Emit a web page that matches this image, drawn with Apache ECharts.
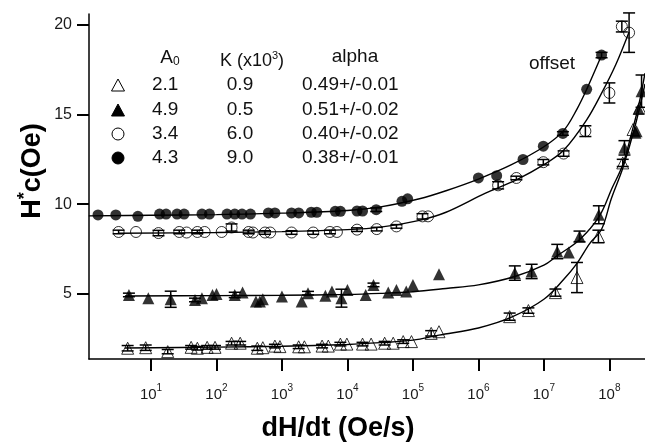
<!DOCTYPE html>
<html>
<head>
<meta charset="utf-8">
<script src="https://cdn.jsdelivr.net/npm/echarts@6/dist/echarts.min.js"></script>
<style>
    html, body { margin: 0; padding: 0; background: #fff; }
    #chart { width: 645px; height: 443px; }
</style>
</head>
<body>
<div id="chart"></div>
<script>
// Hc* vs field sweep rate, four samples plus fitted curves
// points are [dH/dt (Oe/s), Hc* (Oe), error bar half-height]

const openTriangles = [
    [4.4, 1.97, 0.15], [8.3, 2.0, 0.15], [18, 1.78, 0.12], [41, 2.02, 0.1], [51, 1.97, 0.1],
    [72, 2.02, 0.1], [95, 2.02, 0.1], [170, 2.25, 0.1], [230, 2.25, 0.1], [420, 1.97, 0.12],
    [510, 2.0, 0], [780, 2.09, 0.1], [930, 2.06, 0], [1800, 2.05, 0.1], [2200, 2.05, 0],
    [4100, 2.09, 0.1], [5100, 2.09, 0], [7800, 2.2, 0.1], [9800, 2.2, 0], [1.7e4, 2.2, 0.1],
    [2.3e4, 2.2, 0], [3.7e4, 2.25, 0.1], [5.0e4, 2.25, 0], [7.1e4, 2.34, 0.1], [9.5e4, 2.34, 0],
    [1.9e5, 2.8, 0.15], [2.5e5, 2.89, 0], [3.0e6, 3.73, 0.2], [5.8e6, 4.07, 0.15], [1.5e7, 5.07, 0.2],
    [3.2e7, 5.91, 0.84], [6.8e7, 8.2, 0.35], [1.6e8, 12.3, 0.2], [2.3e8, 14.16, 0], [2.9e8, 15.37, 0]
];

const filledTriangles = [
    [4.6, 4.94, 0.1], [9.1, 4.76, 0], [20, 4.70, 0.45], [47, 4.66, 0.1], [60, 4.76, 0],
    [87, 4.94, 0], [100, 5.0, 0], [190, 4.94, 0.15], [250, 5.07, 0], [400, 4.57, 0],
    [460, 4.57, 0], [510, 4.70, 0], [1000, 4.85, 0], [2000, 4.57, 0], [2500, 5.04, 0.1],
    [4600, 4.89, 0], [5800, 5.13, 0], [8100, 4.76, 0.5], [1.0e4, 5.22, 0], [1.9e4, 4.94, 0],
    [2.5e4, 5.50, 0.1], [4.2e4, 5.07, 0], [5.6e4, 5.22, 0], [7.9e4, 5.13, 0], [1.0e5, 5.50, 0],
    [2.5e5, 6.10, 0], [3.6e6, 6.16, 0.4], [6.5e6, 6.25, 0.4], [1.6e7, 7.36, 0.4], [2.4e7, 7.31, 0],
    [3.5e7, 8.20, 0.3], [6.9e7, 9.41, 0.5], [1.7e8, 13.14, 0.4], [2.5e8, 13.98, 0], [2.6e8, 14.07, 0],
    [2.8e8, 15.3, 0], [3.1e8, 16.3, 0.9]
];

const openCircles = [
    [3.2, 8.45, 0.1], [5.9, 8.45, 0], [13, 8.39, 0.15], [27, 8.45, 0.1], [35, 8.42, 0],
    [51, 8.45, 0.1], [66, 8.45, 0], [120, 8.45, 0], [170, 8.70, 0.2], [310, 8.45, 0.1],
    [360, 8.42, 0], [550, 8.42, 0.1], [660, 8.42, 0], [1400, 8.42, 0.1], [3000, 8.42, 0.1],
    [5400, 8.45, 0.1], [6900, 8.45, 0], [1.4e4, 8.58, 0.1], [2.8e4, 8.61, 0.1], [5.6e4, 8.76, 0.1],
    [1.4e5, 9.32, 0.15], [1.7e5, 9.32, 0], [2.0e6, 11.05, 0.2], [3.8e6, 11.46, 0.1], [9.8e6, 12.34, 0.15],
    [2.0e7, 12.82, 0.15], [4.3e7, 14.07, 0.3], [1.0e8, 16.2, 0.56], [1.55e8, 19.9, 0.3], [2.0e8, 19.56, 1.1]
];

const filledCircles = [
    [1.55, 9.4, 0], [2.9, 9.4, 0], [6.3, 9.32, 0], [13.5, 9.45, 0], [17, 9.45, 0],
    [25, 9.45, 0], [32, 9.45, 0], [60, 9.45, 0], [78, 9.45, 0], [145, 9.45, 0],
    [190, 9.45, 0], [245, 9.45, 0], [330, 9.45, 0], [620, 9.51, 0], [780, 9.51, 0],
    [1400, 9.51, 0], [1800, 9.51, 0], [2800, 9.55, 0], [3400, 9.55, 0], [6500, 9.6, 0],
    [7800, 9.6, 0], [1.4e4, 9.62, 0], [1.7e4, 9.62, 0], [2.75e4, 9.69, 0.1], [6.8e4, 10.16, 0],
    [8.3e4, 10.3, 0], [1.0e6, 11.46, 0], [1.9e6, 11.59, 0], [4.8e6, 12.49, 0], [9.8e6, 13.23, 0],
    [1.95e7, 13.94, 0.1], [4.5e7, 16.40, 0], [7.6e7, 18.31, 0.15]
];

// fitted curves, sampled along the drawn lines
const fitOpenTriangles = [
    [4, 1.98], [100, 2.03], [1000, 2.08], [1e4, 2.18], [3.2e4, 2.28], [1e5, 2.42], [2.5e5, 2.7],
    [1e6, 3.1], [3.2e6, 3.7], [1e7, 4.7], [2e7, 5.8], [3.2e7, 6.7], [5e7, 7.8], [7.6e7, 8.6],
    [1.07e8, 10.3], [1.6e8, 12.0], [2.45e8, 14.3], [3.5e8, 16.7]
];
const fitFilledTriangles = [
    [4, 4.88], [100, 4.9], [1000, 4.92], [1e4, 4.97], [3.2e4, 5.03], [1e5, 5.12], [3.2e5, 5.3],
    [1e6, 5.5], [3.6e6, 5.97], [1e7, 6.6], [1.55e7, 7.09], [3.5e7, 8.02], [7e7, 9.32],
    [1.1e8, 10.9], [1.6e8, 12.2], [2.2e8, 14.0], [2.8e8, 15.5], [3.5e8, 17.3]
];
const fitOpenCircles = [
    [3.2, 8.38], [100, 8.42], [1000, 8.47], [1e4, 8.58], [3.2e4, 8.72], [1.26e5, 9.1], [3.2e5, 9.55],
    [1.26e6, 10.6], [4e6, 11.4], [1e7, 12.2], [2e7, 13.0], [4.5e7, 14.7], [7.9e7, 16.3],
    [1.26e8, 17.8], [2e8, 19.6]
];
const fitFilledCircles = [
    [1.12, 9.35], [10, 9.38], [100, 9.42], [1000, 9.5], [1e4, 9.65], [3.2e4, 9.85], [1.26e5, 10.3],
    [3.2e5, 10.75], [1e6, 11.4], [3.2e6, 12.2], [1e7, 13.2], [2e7, 14.1], [3.2e7, 15.3],
    [4.5e7, 16.4], [7.4e7, 18.2]
];

// legend table
const legendA0 = ['2.1', '4.9', '3.4', '4.3'];
const legendK = ['0.9', '0.5', '6.0', '9.0'];
const legendAlpha = ['0.49+/-0.01', '0.51+/-0.02', '0.40+/-0.02', '0.38+/-0.01'];

// tick labels
const xTicks = [1e1, 1e2, 1e3, 1e4, 1e5, 1e6, 1e7, 1e8];
const yTicks = [5, 10, 15, 20];

const FONT = '"Liberation Sans", Arial, sans-serif';

function markerSeries(data, symbol, filled) {
    return {
        type: 'scatter',
        data: data,
        symbol: symbol,
        symbolSize: symbol === 'circle' ? 11 : 12,
        itemStyle: {
            color: filled ? '#000' : 'rgba(0,0,0,0)',
            borderColor: '#000',
            borderWidth: filled ? 0 : 1
        },
        z: 3,
        silent: true
    };
}

function errorSeries(data) {
    return {
        type: 'custom',
        data: data.filter(d => d[2] > 0),
        encode: { x: 0, y: 1 },
        z: 4,
        silent: true,
        clip: false,
        renderItem: function(params, api) {
            const x = api.value(0);
            const y = api.value(1);
            const e = api.value(2);
            const top = api.coord([x, y + e]);
            const bot = api.coord([x, y - e]);
            const w = 6;
            const style = { stroke: '#000', lineWidth: 1.5 };
            return {
                type: 'group',
                children: [
                    { type: 'line', shape: { x1: top[0], y1: top[1], x2: bot[0], y2: bot[1] }, style: style },
                    { type: 'line', shape: { x1: top[0] - w, y1: top[1], x2: top[0] + w, y2: top[1] }, style: style },
                    { type: 'line', shape: { x1: bot[0] - w, y1: bot[1], x2: bot[0] + w, y2: bot[1] }, style: style }
                ]
            };
        }
    };
}

function fitSeries(data) {
    return {
        type: 'line',
        data: data,
        smooth: 0.35,
        symbol: 'none',
        lineStyle: { color: '#000', width: 1.4 },
        z: 2,
        silent: true
    };
}

// legend table built from the arrays above
function buildLegend() {
    const rowY = [85, 110, 134, 158];
    const symbols = ['openTri', 'filledTri', 'openCircle', 'filledCircle'];
    const textStyle = { font: '19px ' + FONT, fill: '#111', verticalAlign: 'middle' };
    const items = [];

    items.push({
        type: 'text', x: 170, y: 58,
        style: {
            text: '{n|A}{s|0}', align: 'center', verticalAlign: 'middle',
            rich: { n: { font: '19px ' + FONT, fill: '#111', verticalAlign: 'bottom' },
                    s: { font: '12px ' + FONT, fill: '#111', verticalAlign: 'bottom', padding: [0, 0, 0, 0] } }
        }
    });
    items.push({
        type: 'text', x: 252, y: 60,
        style: {
            text: '{n|K (x10}{s|3}{n|)}', align: 'center', verticalAlign: 'middle',
            rich: { n: { font: '18px ' + FONT, fill: '#111', verticalAlign: 'bottom' },
                    s: { font: '11px ' + FONT, fill: '#111', verticalAlign: 'bottom', padding: [0, 0, 9, 0] } }
        }
    });
    items.push({ type: 'text', x: 355, y: 57, style: Object.assign({ text: 'alpha', align: 'center' }, textStyle) });

    rowY.forEach((y, i) => {
        const sx = 118;
        if (symbols[i] === 'openTri' || symbols[i] === 'filledTri') {
            items.push({
                type: 'polygon',
                shape: { points: [[sx, y - 6], [sx + 6.5, y + 6], [sx - 6.5, y + 6]] },
                style: { fill: symbols[i] === 'filledTri' ? '#000' : '#fff', stroke: '#000', lineWidth: 1 }
            });
        } else {
            items.push({
                type: 'circle',
                shape: { cx: sx, cy: y, r: 6 },
                style: { fill: symbols[i] === 'filledCircle' ? '#000' : '#fff', stroke: '#000', lineWidth: 1 }
            });
        }
        items.push({ type: 'text', x: 152, y: y, style: Object.assign({ text: legendA0[i], align: 'left' }, textStyle) });
        items.push({ type: 'text', x: 240, y: y, style: Object.assign({ text: legendK[i], align: 'center' }, textStyle) });
        items.push({ type: 'text', x: 302, y: y, style: Object.assign({ text: legendAlpha[i], align: 'left' }, textStyle) });
    });

    items.push({ type: 'text', x: 552, y: 64, style: Object.assign({ text: 'offset', align: 'center' }, textStyle) });
    return items;
}

function initChart() {
    const chart = echarts.init(document.getElementById('chart'), null, { renderer: 'canvas' });

    const axisBase = {
        axisLine: { show: true, lineStyle: { color: '#000', width: 1.5 } },
        axisTick: { show: true, inside: false, length: 12, lineStyle: { color: '#000', width: 2 } },
        splitLine: { show: false },
        minorTick: { show: false }
    };

    const option = {
        backgroundColor: '#fff',
        animation: false,
        grid: { left: 89, right: 0, top: 14, bottom: 84 },
        xAxis: Object.assign({}, axisBase, {
            type: 'log',
            logBase: 10,
            min: 1.13,
            max: 3.5e8,
            axisTick: Object.assign({}, axisBase.axisTick, { customValues: xTicks }),
            axisLabel: {
                customValues: xTicks,
                margin: 24,
                formatter: function(v) {
                    return '{b|10}{e|' + Math.round(Math.log10(v)) + '}';
                },
                rich: {
                    b: { fontFamily: FONT, fontSize: 15, color: '#1a1a1a', verticalAlign: 'bottom' },
                    e: { fontFamily: FONT, fontSize: 10, color: '#1a1a1a', verticalAlign: 'bottom', padding: [0, 0, 9, 0] }
                }
            }
        }),
        yAxis: Object.assign({}, axisBase, {
            type: 'value',
            min: 1.37,
            max: 20.6,
            axisTick: Object.assign({}, axisBase.axisTick, { customValues: yTicks }),
            axisLabel: {
                customValues: yTicks,
                margin: 17,
                fontFamily: FONT,
                fontSize: 16,
                color: '#1a1a1a'
            }
        }),
        graphic: [
            {
                type: 'text', x: 338, y: 429,
                style: { text: 'dH/dt (Oe/s)', font: 'bold 27px ' + FONT, fill: '#000', align: 'center', verticalAlign: 'middle' }
            },
            {
                type: 'text', x: 31, y: 171, rotation: Math.PI / 2,
                style: {
                    text: '{h|H}{s|*}{h|c(Oe)}', align: 'center', verticalAlign: 'middle',
                    rich: {
                        h: { font: 'bold 27px ' + FONT, fill: '#000', verticalAlign: 'bottom' },
                        s: { font: 'bold 18px ' + FONT, fill: '#000', verticalAlign: 'bottom', padding: [0, 0, 12, 0] }
                    }
                }
            }
        ].concat(buildLegend()),
        series: [
            fitSeries(fitOpenTriangles),
            fitSeries(fitFilledTriangles),
            fitSeries(fitOpenCircles),
            fitSeries(fitFilledCircles),
            markerSeries(openTriangles, 'triangle', false),
            markerSeries(filledTriangles, 'triangle', true),
            markerSeries(openCircles, 'circle', false),
            markerSeries(filledCircles, 'circle', true),
            errorSeries(openTriangles),
            errorSeries(filledTriangles),
            errorSeries(openCircles),
            errorSeries(filledCircles)
        ]
    };

    chart.setOption(option);
}

document.addEventListener('DOMContentLoaded', initChart);
</script>
</body>
</html>
